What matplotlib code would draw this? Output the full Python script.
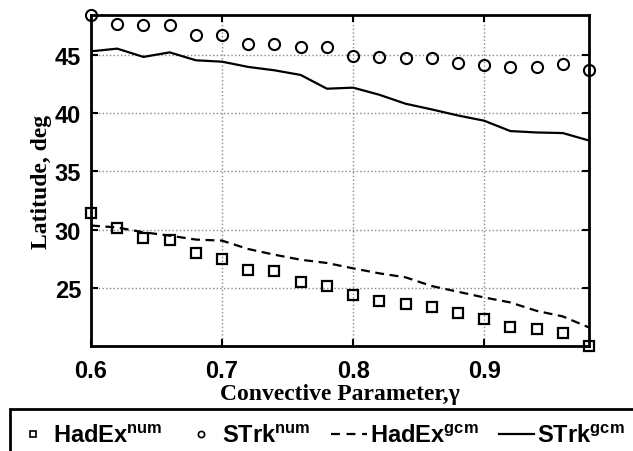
import matplotlib
matplotlib.use("Agg")
import matplotlib.pyplot as plt
from matplotlib.patches import Rectangle

# convective parameter values
gamma = [0.60, 0.62, 0.64, 0.66, 0.68, 0.70, 0.72, 0.74, 0.76, 0.78,
         0.80, 0.82, 0.84, 0.86, 0.88, 0.90, 0.92, 0.94, 0.96, 0.98]

hadex_num = [31.4, 30.16, 29.28, 29.08, 27.99, 27.5, 26.55, 26.46, 25.52, 25.17,
             24.37, 23.85, 23.57, 23.34, 22.8, 22.28, 21.59, 21.47, 21.1, 20.0]
strk_num = [48.43, 47.66, 47.55, 47.57, 46.74, 46.71, 45.94, 45.94, 45.71, 45.71,
            44.91, 44.8, 44.74, 44.74, 44.31, 44.14, 43.94, 43.94, 44.25, 43.69]
hadex_gcm = [30.35, 30.18, 29.77, 29.48, 29.14, 29.05, 28.33, 27.84, 27.41, 27.13,
             26.67, 26.24, 25.9, 25.15, 24.66, 24.17, 23.74, 23.02, 22.54, 21.59]
strk_gcm = [45.31, 45.54, 44.83, 45.22, 44.54, 44.42, 43.97, 43.68, 43.28, 42.1,
            42.19, 41.58, 40.81, 40.32, 39.8, 39.35, 38.46, 38.34, 38.29, 37.65]

labels = ["HadEx$^{\\mathrm{num}}$", "STrk$^{\\mathrm{num}}$",
          "HadEx$^{\\mathrm{gcm}}$", "STrk$^{\\mathrm{gcm}}$"]
xticks = [0.6, 0.7, 0.8, 0.9]
yticks = [25, 30, 35, 40, 45]

plt.rcParams['mathtext.fontset'] = 'custom'
plt.rcParams['mathtext.rm'] = 'Liberation Sans:bold'
plt.rcParams['mathtext.bf'] = 'Liberation Sans:bold'

fig = plt.figure(figsize=(6.33, 4.52), dpi=100)
ax = fig.add_axes([91 / 633, 1 - 347 / 452, 498 / 633, 331 / 452])

ax.plot(gamma, hadex_num, 's', color='k', mfc='none', ms=6.5, mew=1.6,
        clip_on=False, zorder=5, label=labels[0])
ax.plot(gamma, strk_num, 'o', color='k', mfc='none', ms=8, mew=1.5,
        clip_on=False, zorder=5, label=labels[1])
ax.plot(gamma, hadex_gcm, '--', color='k', lw=1.6, dashes=(4, 2.5),
        label=labels[2])
ax.plot(gamma, strk_gcm, '-', color='k', lw=1.6, label=labels[3])

ax.set_xlim(min(gamma), max(gamma))
ax.set_ylim(min(hadex_num), max(strk_num))
ax.set_xticks(xticks)
ax.set_yticks(yticks)
ax.set_xticklabels([str(t) for t in xticks], fontfamily='Liberation Sans',
                   fontweight='bold', fontsize=17)
ax.set_yticklabels([str(t) for t in yticks], fontfamily='Liberation Sans',
                   fontweight='bold', fontsize=17)
ax.tick_params(direction='in', length=5, width=1.5, top=True, right=True)
ax.tick_params(axis='x', pad=9)
ax.tick_params(axis='y', pad=7)
ax.grid(True, linestyle=':', color='#888888', lw=1)
for s in ax.spines.values():
    s.set_linewidth(2)

ax.set_xlabel("Convective Parameter,\u03b3", fontfamily='Liberation Serif',
              fontweight='bold', fontsize=17, labelpad=1)
ax.set_ylabel("Latitude, deg", fontfamily='Liberation Serif',
              fontweight='bold', fontsize=17, labelpad=2)

# legend box runs off the right and bottom edge
fig.patches.append(Rectangle((10 / 633, -0.2), 1.0, 0.2 + 1 - 410 / 452,
                             transform=fig.transFigure, fill=False,
                             edgecolor='k', lw=2))

leg = fig.legend(loc='upper left', bbox_to_anchor=(15 / 633, 1 - 425 / 452),
                 borderaxespad=0, borderpad=0, ncol=4, frameon=False,
                 handlelength=1.5, handletextpad=0.12, columnspacing=0.88,
                 prop={'family': 'Liberation Sans', 'weight': 'bold', 'size': 17})
for h in leg.legend_handles[:2]:
    h.set_markersize(4.5)
    h.set_markeredgewidth(1.2)
leg.legend_handles[2].set_dashes((4, 3))

fig.savefig('out.png', dpi=100)
